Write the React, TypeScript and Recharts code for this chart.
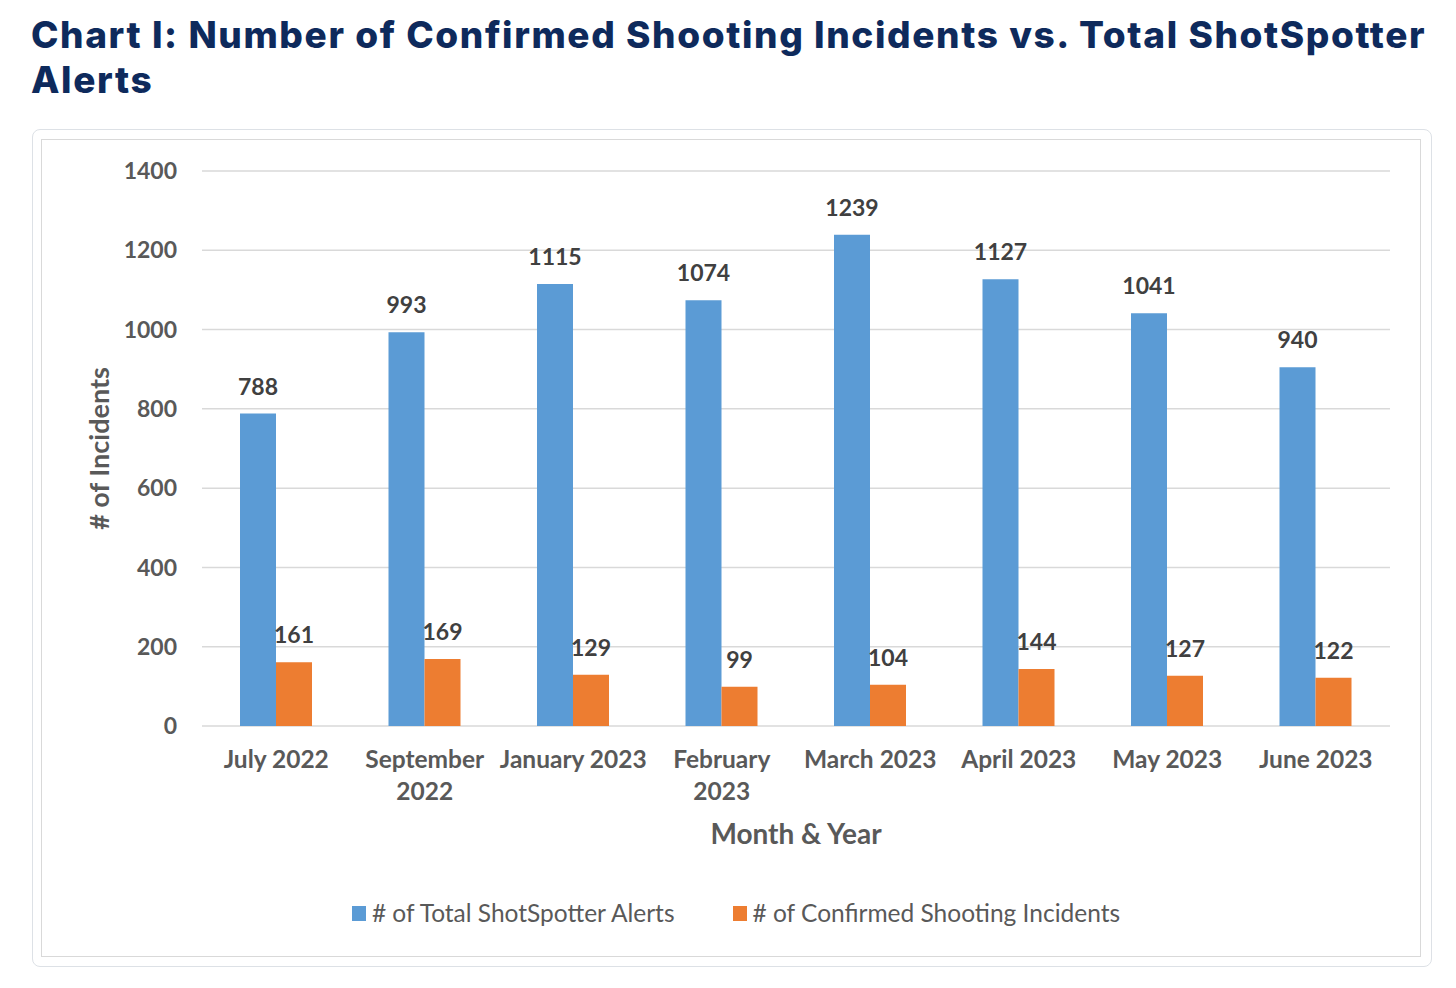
import React from 'react';
import { BarChart, Bar, XAxis, YAxis, CartesianGrid, Legend, LabelList } from 'recharts';

const months = ['July 2022', 'September 2022', 'January 2023', 'February 2023', 'March 2023', 'April 2023', 'May 2023', 'June 2023'];
const monthLines = [['July 2022'], ['September', '2022'], ['January 2023'], ['February', '2023'], ['March 2023'], ['April 2023'], ['May 2023'], ['June 2023']];
const totalAlerts = [788, 993, 1115, 1074, 1239, 1127, 1041, 905];
const totalAlertLabels = ['788', '993', '1115', '1074', '1239', '1127', '1041', '940'];
const confirmedIncidents = [161, 169, 129, 99, 104, 144, 127, 122];
const yTicks = [0, 200, 400, 600, 800, 1000, 1200, 1400];

const data = months.map((m, i) => ({
  month: m,
  alerts: totalAlerts[i],
  alertLabel: totalAlertLabels[i],
  confirmed: confirmedIncidents[i],
}));

const palette = {
  title: '#0e2a5c',
  blue: '#5b9bd5',
  orange: '#ed7d31',
  grid: '#d9d9d9',
  tick: '#595959',
  label: '#404040',
};

const font = 'Lato, "Open Sans", sans-serif';

function MonthTick({ x, y, payload }: any) {
  const idx = months.indexOf(payload.value);
  const lines = monthLines[idx] || [payload.value];
  return (
    <text x={x} y={y} textAnchor="middle" fill={palette.tick} fontFamily={font} fontSize={24.5} fontWeight={700}>
      {lines.map((l, i) => (
        <tspan key={i} x={x} dy={i === 0 ? 34 : 32}>{l}</tspan>
      ))}
    </text>
  );
}

function LegendBox() {
  const items = [
    { name: '# of Total ShotSpotter Alerts', color: palette.blue },
    { name: '# of Confirmed Shooting Incidents', color: palette.orange },
  ];
  return (
    <div style={{ display: 'flex', justifyContent: 'center', height: 24, lineHeight: '24px', fontFamily: font, fontSize: 24.5, color: palette.tick, paddingLeft: 10 }}>
      {items.map((it, i) => (
        <div key={i} style={{ display: 'flex', alignItems: 'center', marginLeft: i ? 58 : 0 }}>
          <span style={{ width: 14, height: 15, background: it.color, marginRight: 6, display: 'inline-block' }} />
          <span>{it.name}</span>
        </div>
      ))}
    </div>
  );
}

const titleStyle: React.CSSProperties = {
  fontFamily: 'Inter, "Open Sans", sans-serif',
  fontWeight: 800,
  fontSize: 37,
  letterSpacing: 1.6,
  lineHeight: '45px',
  height: 45,
  color: palette.title,
  whiteSpace: 'nowrap',
};

export default function App() {
  return (
    <div style={{ position: 'absolute', left: 0, top: 0, width: 1456, height: 988, background: '#fff' }}>
      <div style={{ position: 'absolute', left: 31, top: 12 }}>
        <div style={titleStyle}>Chart I: Number of Confirmed Shooting Incidents vs. Total ShotSpotter</div>
        <div style={titleStyle}>Alerts</div>
      </div>
      <div style={{ position: 'absolute', left: 32, top: 129, width: 1400, height: 838, boxSizing: 'border-box', border: '1px solid #dde1e6', borderRadius: 8 }} />
      <div style={{ position: 'absolute', left: 41, top: 139, width: 1380, height: 818, boxSizing: 'border-box', border: '1px solid #d9d9d9' }} />
      <div style={{ position: 'absolute', left: 41, top: 139 }}>
        <BarChart width={1380} height={818} data={data} margin={{ top: 32, right: 31, left: 20, bottom: 32 }} barCategoryGap={38} barGap={0}>
          <CartesianGrid vertical={false} stroke={palette.grid} strokeWidth={1.5} />
          <XAxis
            dataKey="month"
            height={175}
            axisLine={false}
            tickLine={false}
            interval={0}
            tick={<MonthTick />}
            label={{
              content: ({ viewBox }: any) => (
                <text x={viewBox.x + viewBox.width / 2} y={viewBox.y + 118} textAnchor="middle" fill={palette.tick} fontFamily={font} fontSize={28} fontWeight={700}>
                  Month &amp; Year
                </text>
              ),
            }}
          />
          <YAxis
            width={141}
            domain={[0, 1400]}
            ticks={yTicks}
            axisLine={false}
            tickLine={false}
            tickMargin={19}
            tick={{ fill: palette.tick, fontFamily: font, fontSize: 23, fontWeight: 700 }}
            label={{
              content: ({ viewBox }: any) => {
                const cx = viewBox.x + 37;
                const cy = viewBox.y + viewBox.height / 2;
                return (
                  <text x={cx} y={cy} transform={`rotate(-90, ${cx}, ${cy})`} textAnchor="middle" dominantBaseline="central" fill={palette.tick} fontFamily={font} fontSize={27} fontWeight={700}>
                    # of Incidents
                  </text>
                );
              },
            }}
          />
          <Legend verticalAlign="bottom" content={<LegendBox />} wrapperStyle={{ left: 0, width: 1380 }} />
          <Bar dataKey="alerts" name="# of Total ShotSpotter Alerts" fill={palette.blue} isAnimationActive={false}>
            <LabelList dataKey="alertLabel" position="top" offset={19} fill={palette.label} fontFamily={font} fontSize={23} fontWeight={700} />
          </Bar>
          <Bar dataKey="confirmed" name="# of Confirmed Shooting Incidents" fill={palette.orange} isAnimationActive={false}>
            <LabelList dataKey="confirmed" position="top" offset={19} fill={palette.label} fontFamily={font} fontSize={23} fontWeight={700} />
          </Bar>
        </BarChart>
      </div>
    </div>
  );
}
